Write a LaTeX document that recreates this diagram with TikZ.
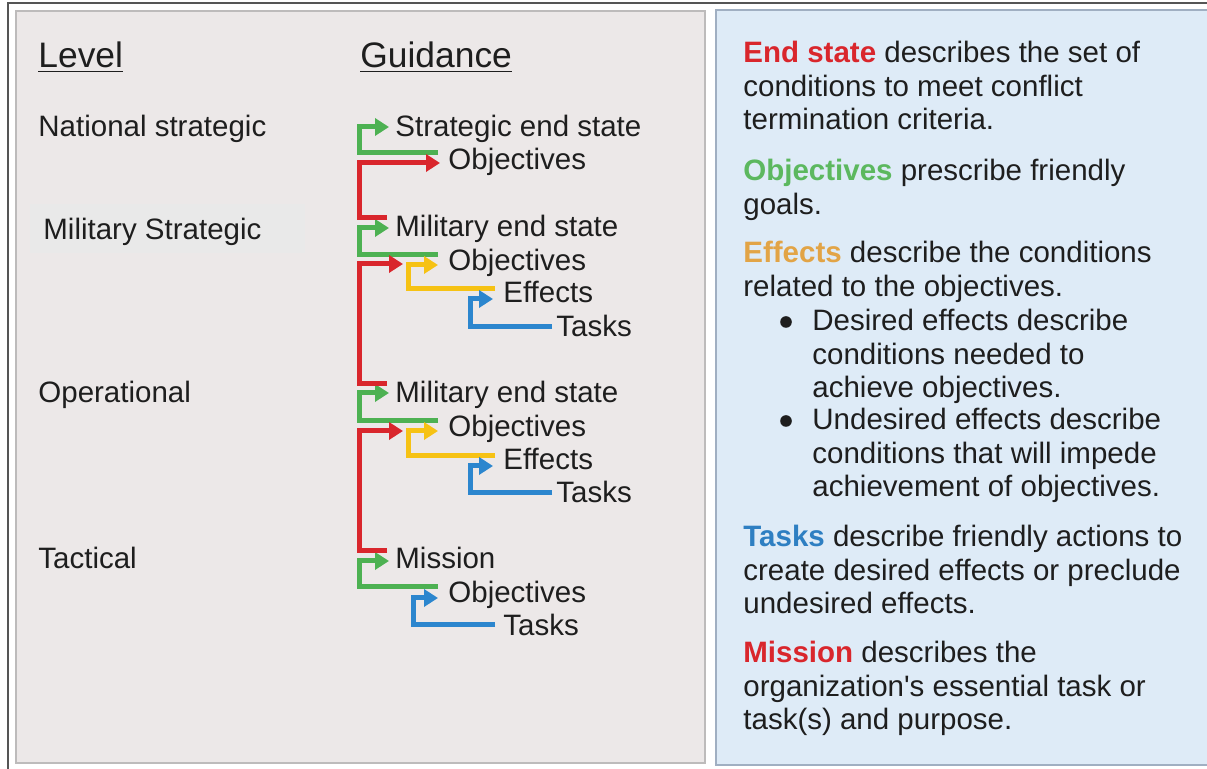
\documentclass[tikz,border=0pt]{standalone}
\usepackage{fontspec}
\setmainfont{Liberation Sans}
\usetikzlibrary{arrows.meta,calc}

\definecolor{panelgray}{HTML}{ECE8E8}
\definecolor{panelline}{HTML}{BDBBBB}
\definecolor{panelblue}{HTML}{DEEBF7}
\definecolor{blueline}{HTML}{A0AFC2}
\definecolor{framegray}{HTML}{555555}
\definecolor{boxgray}{HTML}{E9E9E9}
\definecolor{txt}{HTML}{1E1E1E}
\definecolor{esred}{HTML}{D9262C}
\definecolor{objgreen}{HTML}{4DB152}
\definecolor{effyellow}{HTML}{F6C214}
\definecolor{tskblue}{HTML}{2C86CE}
\definecolor{hdgreen}{HTML}{5CB85F}
\definecolor{hdorange}{HTML}{E2A446}
\definecolor{hdblue}{HTML}{2E7FC2}

\begin{document}
\begin{tikzpicture}[x=0.5pt,y=-0.5pt,
  lbl/.style={anchor=base west,inner sep=0pt,text=txt,
    font=\fontsize{14.75}{16.7}\selectfont},
  head/.style={lbl,font=\fontsize{17.7}{20}\selectfont},
  para/.style={anchor=north west,inner sep=0pt,align=left,text=txt,
    font=\fontsize{14.75}{16.7}\selectfont},
  dot/.style={circle,fill=txt,inner sep=0pt,minimum size=5.8pt},
  link/.style={line width=2.5pt,-{Triangle[length=7pt,width=8.5pt]}}]
\useasboundingbox (0,0) rectangle (1207,769);
\fill[white] (0,0) rectangle (1207,769);

% frame and panels
\draw[framegray,line width=1pt] (8,769) -- (8,3) -- (1207,3);
\draw[panelline,fill=panelgray,line width=0.8pt] (16,11) rectangle (705,763);
\draw[blueline,fill=panelblue,line width=0.8pt] (716,10) rectangle (1215,765);

% levels
\node[head] (level) at (38,68) {\underline{Level}};
\node[head] (guide) at (360,68) {\underline{Guidance}};
\node[lbl] (nat) at (38,137) {National strategic};
\fill[boxgray] (30,204) rectangle (305,253);
\node[lbl] (milstr) at (43,240) {Military Strategic};
\node[lbl] (oper) at (38,403) {Operational};
\node[lbl] (tact) at (38,569) {Tactical};

% guidance
\node[lbl] (se) at (395,137) {Strategic end state};
\node[lbl] (ob1) at (448,170) {Objectives};
\node[lbl] (me1) at (395,237) {Military end state};
\node[lbl] (ob2) at (448,271) {Objectives};
\node[lbl] (ef1) at (503,303) {Effects};
\node[lbl] (tk1) at (556,337) {Tasks};
\node[lbl] (me2) at (395,403) {Military end state};
\node[lbl] (ob3) at (448,437) {Objectives};
\node[lbl] (ef2) at (503,470) {Effects};
\node[lbl] (tk2) at (556,503) {Tasks};
\node[lbl] (mis) at (395,569) {Mission};
\node[lbl] (ob4) at (448,603) {Objectives};
\node[lbl] (tk3) at (503,636) {Tasks};

% green: objectives to end state
\draw[link,objgreen] ($(ob1.base west)+(-10,-17)$) -| ($(se.base west)+(-36,-10)$) -- ($(se.base west)+(-6,-10)$);
\draw[link,objgreen] ($(ob2.base west)+(-10,-16)$) -| ($(me1.base west)+(-36,-9)$) -- ($(me1.base west)+(-6,-9)$);
\draw[link,objgreen] ($(ob3.base west)+(-10,-16)$) -| ($(me2.base west)+(-36,-10)$) -- ($(me2.base west)+(-6,-10)$);
\draw[link,objgreen] ($(ob4.base west)+(-10,-16)$) -| ($(mis.base west)+(-36,-8)$) -- ($(mis.base west)+(-6,-8)$);

% red: next level back to objectives
\draw[link,esred] ($(me1.base west)+(-8,-19)$) -| ($(ob1.base west)+(-89,-7)$) -- ($(ob1.base west)+(-8,-7)$);
\draw[link,esred] ($(me2.base west)+(-8,-19)$) -| ($(ob2.base west)+(-89,-7)$) -- ($(ob2.base west)+(-45,-7)$);
\draw[link,esred] ($(mis.base west)+(-8,-18)$) -| ($(ob3.base west)+(-89,-6)$) -- ($(ob3.base west)+(-45,-6)$);

% yellow: effects to objectives
\draw[link,effyellow] ($(ef1.base west)+(-8,-14)$) -| ($(ob2.base west)+(-40,-6)$) -- ($(ob2.base west)+(-10,-6)$);
\draw[link,effyellow] ($(ef2.base west)+(-8,-14)$) -| ($(ob3.base west)+(-40,-6)$) -- ($(ob3.base west)+(-10,-6)$);

% blue: tasks to effects / objectives
\draw[link,tskblue] ($(tk1.base west)+(-4,-10)$) -| ($(ef1.base west)+(-33,-4)$) -- ($(ef1.base west)+(-10,-4)$);
\draw[link,tskblue] ($(tk2.base west)+(-4,-10)$) -| ($(ef2.base west)+(-33,-4)$) -- ($(ef2.base west)+(-10,-4)$);
\draw[link,tskblue] ($(tk3.base west)+(-8,-11)$) -| ($(ob4.base west)+(-35,-5)$) -- ($(ob4.base west)+(-10,-5)$);

% definitions
\node[para] (pend) at (743,41) {\textcolor{esred}{\bfseries End state} describes the set of\\conditions to meet conflict\\termination criteria.};
\node[para] (pobj) at (743,159) {\textcolor{hdgreen}{\bfseries Objectives} prescribe friendly\\goals.};
\node[para] (peff) at (743,241) {\textcolor{hdorange}{\bfseries Effects} describe the conditions\\related to the objectives.};
\node[dot] (d1) at (786,322) {};
\node[para] (pdes) at (812,309) {Desired effects describe\\conditions needed to\\achieve objectives.};
\node[dot] (d2) at (786,421) {};
\node[para] (pund) at (812,408) {Undesired effects describe\\conditions that will impede\\achievement of objectives.};
\node[para] (ptsk) at (743,525) {\textcolor{hdblue}{\bfseries Tasks} describe friendly actions to\\create desired effects or preclude\\undesired effects.};
\node[para] (pmis) at (743,641) {\textcolor{esred}{\bfseries Mission} describes the\\organization\textquotesingle s essential task or\\task(s) and purpose.};

\end{tikzpicture}
\end{document}
